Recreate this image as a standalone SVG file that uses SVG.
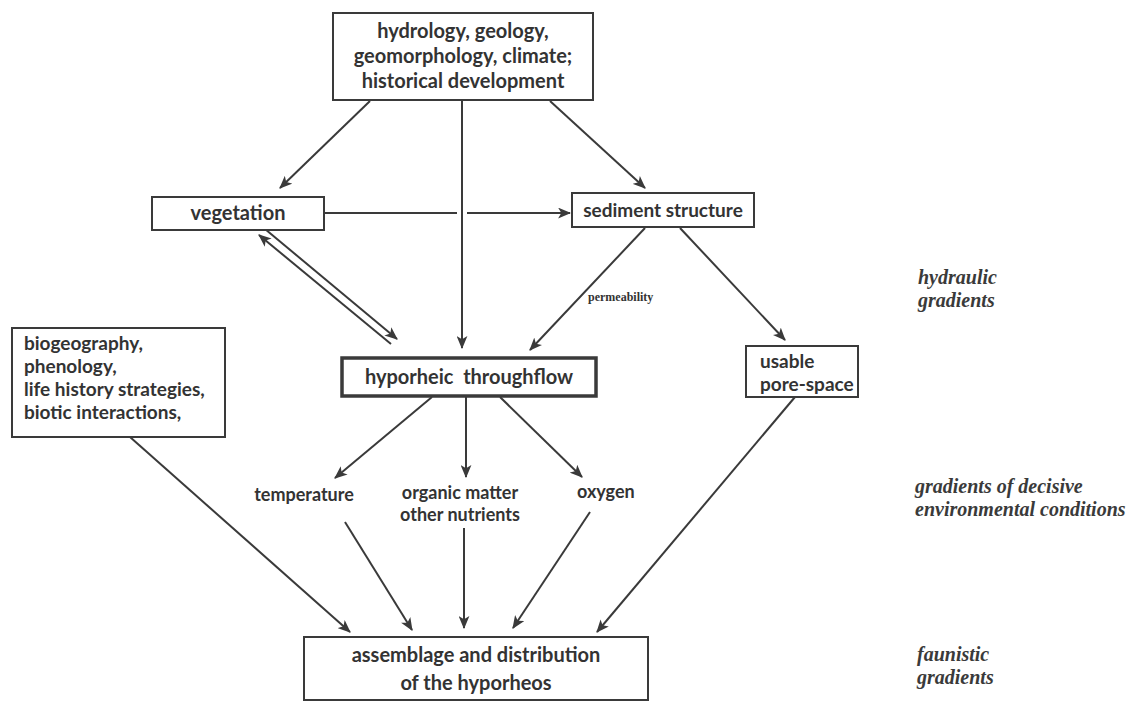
<svg xmlns="http://www.w3.org/2000/svg" width="1143" height="702" viewBox="0 0 1143 702">
<defs>
<marker id="ah" viewBox="0 0 12 10" refX="11" refY="5" markerWidth="13" markerHeight="11" markerUnits="userSpaceOnUse" orient="auto-start-reverse">
<path d="M0,0 L12,5 L0,10 L3,5 z" fill="#3a3a3a"/>
</marker>
<style>
.box{fill:#fff;stroke:#3a3a3a;stroke-width:2}
.thick{stroke-width:3.5}
.t{font-family:Lato,"Open Sans","Liberation Sans",sans-serif;font-weight:700;fill:#333;font-size:20px}
.m{font-size:19px}
.s{font-family:Lato,"Open Sans","Liberation Sans",sans-serif;font-weight:700;fill:#333;font-size:18px}
.it{font-family:"Liberation Serif",serif;font-style:italic;font-weight:bold;fill:#3a3a3a;font-size:20px}
.c line{stroke:#3a3a3a;stroke-width:2;fill:none}
</style>
</defs>
<g class="c" id="connectors">
<line x1="370" y1="101" x2="280" y2="188" marker-end="url(#ah)"/>
<line x1="550" y1="101" x2="645" y2="188" marker-end="url(#ah)"/>
<line x1="462" y1="101" x2="462" y2="348" marker-end="url(#ah)"/>
<line x1="324" y1="213" x2="457" y2="213"/>
<line x1="467" y1="213" x2="570" y2="213" marker-end="url(#ah)"/>
<line x1="259" y1="235" x2="391" y2="344" marker-start="url(#ah)"/>
<line x1="265" y1="229" x2="397" y2="339" marker-end="url(#ah)"/>
<line x1="645" y1="228" x2="530" y2="350" marker-end="url(#ah)"/>
<line x1="680" y1="228" x2="785" y2="340" marker-end="url(#ah)"/>
<line x1="432" y1="397" x2="335" y2="478" marker-end="url(#ah)"/>
<line x1="466" y1="397" x2="466" y2="477" marker-end="url(#ah)"/>
<line x1="500" y1="397" x2="582" y2="477" marker-end="url(#ah)"/>
<line x1="130" y1="437" x2="350" y2="632" marker-end="url(#ah)"/>
<line x1="345" y1="522" x2="412" y2="630" marker-end="url(#ah)"/>
<line x1="464" y1="528" x2="464" y2="628" marker-end="url(#ah)"/>
<line x1="590" y1="512" x2="513" y2="628" marker-end="url(#ah)"/>
<line x1="795" y1="397" x2="597" y2="632" marker-end="url(#ah)"/>
</g>
<g id="top">
<rect class="box" x="333" y="13" width="260" height="87"/>
<text class="t" x="463" y="38" text-anchor="middle">hydrology, geology,</text>
<text class="t" x="463" y="63" text-anchor="middle">geomorphology, climate;</text>
<text class="t" x="463" y="88" text-anchor="middle">historical development</text>
</g>
<g id="vegetation">
<rect class="box" x="152" y="197" width="172" height="33"/>
<text class="t" x="238" y="220" text-anchor="middle">vegetation</text>
</g>
<g id="sediment">
<rect class="box" x="572" y="193" width="182" height="34"/>
<text class="t m" x="663" y="217" text-anchor="middle">sediment structure</text>
</g>
<g id="permeability">
<text x="588" y="301" font-family="Liberation Serif,serif" font-weight="bold" font-size="12" fill="#333">permeability</text>
</g>
<g id="hyporheic">
<rect class="box thick" x="342" y="358" width="254" height="38"/>
<text class="t" x="469" y="384" text-anchor="middle" xml:space="preserve">hyporheic  throughflow</text>
</g>
<g id="biogeography">
<rect class="box" x="12" y="328" width="213" height="109"/>
<text class="t m" x="24" y="350">biogeography,</text>
<text class="t m" x="24" y="373">phenology,</text>
<text class="t m" x="24" y="396">life history strategies,</text>
<text class="t m" x="24" y="419">biotic interactions,</text>
</g>
<g id="usable">
<rect class="box" x="746" y="346" width="112" height="51"/>
<text class="t m" x="760" y="368">usable</text>
<text class="t m" x="760" y="391">pore-space</text>
</g>
<g id="temperature">
<text class="s" x="304" y="501" text-anchor="middle">temperature</text>
</g>
<g id="organic">
<text class="s" x="460" y="499" text-anchor="middle">organic matter</text>
<text class="s" x="460" y="521" text-anchor="middle">other nutrients</text>
</g>
<g id="oxygen">
<text class="s" x="577" y="498">oxygen</text>
</g>
<g id="assemblage">
<rect class="box" x="304" y="637" width="344" height="63"/>
<text class="t" x="476" y="662" text-anchor="middle" font-size="23">assemblage and distribution</text>
<text class="t" x="476" y="690" text-anchor="middle" font-size="23">of the hyporheos</text>
</g>
<g id="labels">
<text class="it" x="918" y="284">hydraulic</text>
<text class="it" x="918" y="307">gradients</text>
<text class="it" x="915" y="493">gradients of decisive</text>
<text class="it" x="915" y="516">environmental conditions</text>
<text class="it" x="917" y="661">faunistic</text>
<text class="it" x="917" y="684">gradients</text>
</g>
</svg>
